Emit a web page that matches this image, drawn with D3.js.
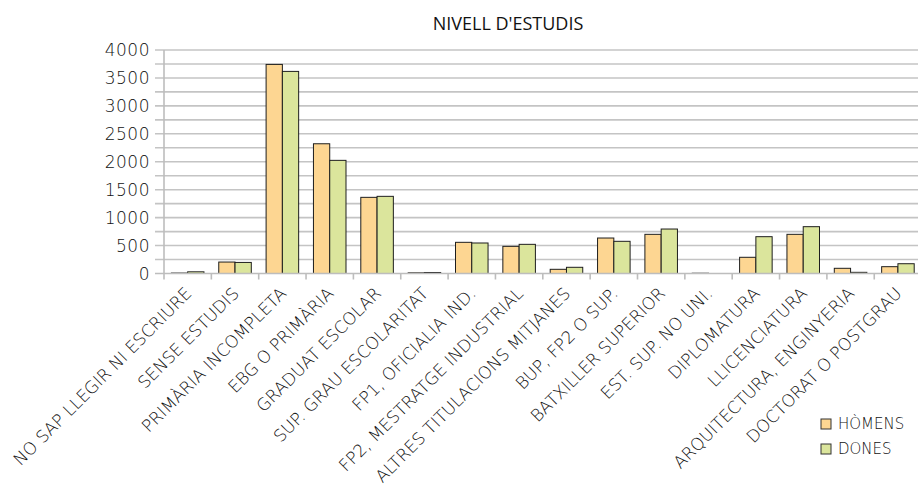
<!DOCTYPE html>
<html>
<head>
<meta charset="utf-8">
<script src="https://cdn.jsdelivr.net/npm/d3@7"></script>
<style>
  body { margin: 0; background: #fff; overflow: hidden; }
  text { font-family: "DejaVu Sans", sans-serif; font-weight: 200; fill: #111; }
  text.title { font-family: "Open Sans", sans-serif; font-weight: 400; fill: #111; }
</style>
</head>
<body>
<svg id="chart" width="918" height="487"></svg>
<script>
const categories = [
  'NO SAP LLEGIR NI ESCRIURE', 'SENSE ESTUDIS', 'PRIMÀRIA INCOMPLETA', 'EBG O PRIMÀRIA',
  'GRADUAT ESCOLAR', 'SUP. GRAU ESCOLARITAT', 'FP1, OFICIALIA IND.', 'FP2, MESTRATGE INDUSTRIAL',
  'ALTRES TITULACIONS MITJANES', 'BUP, FP2 O SUP.', 'BATXILLER SUPERIOR', 'EST. SUP. NO UNI.',
  'DIPLOMATURA', 'LLICENCIATURA', 'ARQUITECTURA, ENGINYERIA', 'DOCTORAT O POSTGRAU'
]
const homens = [8, 205, 3742, 2322, 1363, 12, 558, 486, 75, 635, 701, 5, 290, 701, 93, 122]
const dones = [30, 198, 3617, 2025, 1381, 18, 546, 522, 111, 576, 796, 0, 659, 838, 21, 175]
const seriesNames = ['HÒMENS', 'DONES']
const yTicks = [0, 500, 1000, 1500, 2000, 2500, 3000, 3500, 4000]

const colors = ['#fdd692', '#dbe59c']
const margin = { left: 164, top: 50 }
const plotW = 757.6
const plotH = 223.5

const svg = d3.select('#chart')

const x = d3.scaleBand().domain(categories).range([0, plotW]).paddingInner(0).paddingOuter(0)
const x1 = d3.scaleBand().domain(seriesNames).range([7.4, x.bandwidth() - 7.4])
const y = d3.scaleLinear().domain([0, 4000]).range([plotH, 0])

const g = svg.append('g').attr('transform', `translate(${margin.left},${margin.top})`)

// title
svg.append('text')
  .attr('class', 'title')
  .attr('x', 508).attr('y', 30)
  .attr('text-anchor', 'middle')
  .style('font-size', '18px')
  .text("NIVELL D'ESTUDIS")

// gridlines every 250
const grid = d3.range(0, 4001, 250)
g.selectAll('line.grid')
  .data(grid.filter((d) => d > 0))
  .enter().append('line')
  .attr('class', 'grid')
  .attr('x1', -9).attr('x2', plotW)
  .attr('y1', (d) => y(d)).attr('y2', (d) => y(d))
  .attr('stroke', '#c4c4c4')
  .attr('stroke-width', 1.6)

// y axis line
g.append('line')
  .attr('x1', 0).attr('x2', 0)
  .attr('y1', 0).attr('y2', plotH)
  .attr('stroke', '#bdbdbd').attr('stroke-width', 1.6)

// y labels
g.selectAll('text.ylab')
  .data(yTicks)
  .enter().append('text')
  .attr('class', 'ylab')
  .attr('x', -14)
  .attr('y', (d) => y(d) + 6)
  .attr('text-anchor', 'end')
  .style('font-size', '17px')
  .style('letter-spacing', '0.5px')
  .text((d) => d)

// bars
const rows = categories.map((c, i) => ({ cat: c, vals: [homens[i], dones[i]] }))
const groups = g.selectAll('g.cat')
  .data(rows)
  .enter().append('g')
  .attr('transform', (d) => `translate(${x(d.cat)},0)`)

groups.selectAll('rect')
  .data((d) => d.vals.map((v, j) => ({ s: seriesNames[j], v, j })))
  .enter().append('rect')
  .attr('x', (d) => x1(d.s))
  .attr('width', x1.bandwidth())
  .attr('y', (d) => y(d.v))
  .attr('height', (d) => plotH - y(d.v))
  .style('fill', (d) => colors[d.j])
  .attr('stroke', '#1e1e1e')
  .attr('stroke-width', 1)

// x axis line and ticks
g.append('line')
  .attr('x1', -9).attr('x2', plotW)
  .attr('y1', plotH).attr('y2', plotH)
  .attr('stroke', '#bdbdbd').attr('stroke-width', 1.6)

g.selectAll('line.xtick')
  .data(categories)
  .enter().append('line')
  .attr('x1', (d) => x(d)).attr('x2', (d) => x(d))
  .attr('y1', plotH).attr('y2', plotH + 6)
  .attr('stroke', '#bdbdbd').attr('stroke-width', 1.6)

// x labels
g.selectAll('text.xlab')
  .data(categories)
  .enter().append('text')
  .attr('class', 'xlab')
  .attr('text-anchor', 'end')
  .attr('transform', (d) => `translate(${x(d) + x.bandwidth() / 2 + 5},${plotH + 21}) rotate(-45)`)
  .style('font-size', '17px')
  .text((d) => d)

// legend
const legend = svg.append('g').attr('transform', 'translate(821,419)')
seriesNames.forEach((s, i) => {
  legend.append('rect')
    .attr('x', 0).attr('y', i * 25)
    .attr('width', 10).attr('height', 10)
    .style('fill', colors[i])
    .attr('stroke', '#333')
  legend.append('text')
    .attr('x', 17).attr('y', i * 25 + 10)
    .style('font-size', '15px')
    .text(s)
})
</script>
</body>
</html>
